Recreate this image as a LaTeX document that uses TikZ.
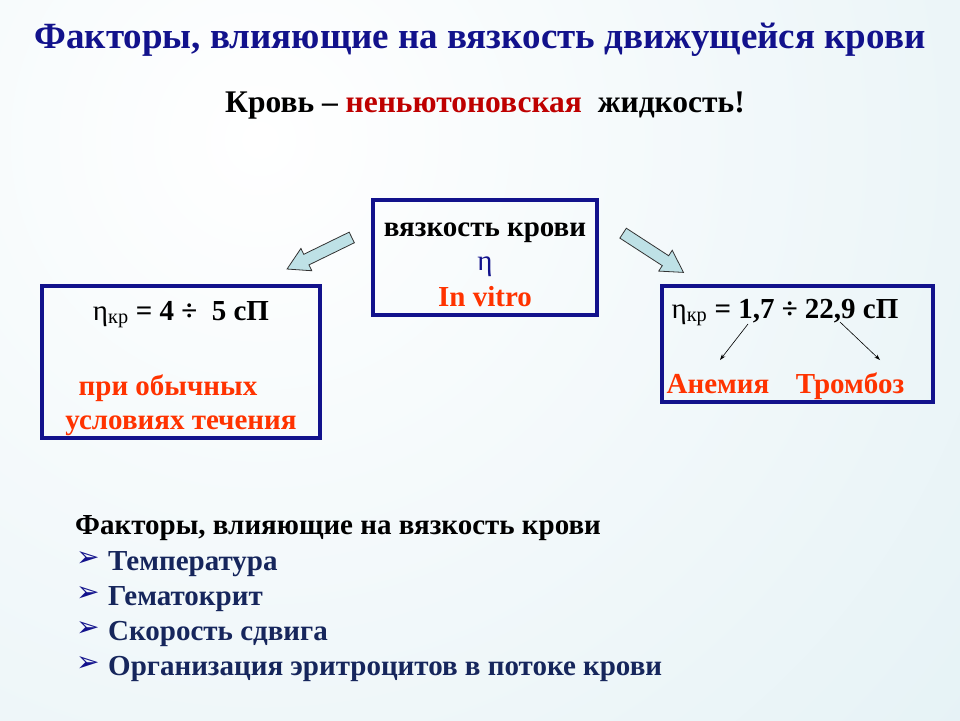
\documentclass[tikz,border=0pt]{standalone}
\usepackage{fontspec}
\setmainfont{Liberation Serif}
\newfontfamily\symfont{DejaVu Sans}
\usetikzlibrary{positioning,shapes.arrows,arrows.meta}

\definecolor{navy}{RGB}{18,18,140}
\definecolor{listblue}{RGB}{22,38,92}
\definecolor{darkred}{RGB}{190,0,0}
\definecolor{orangered}{RGB}{255,51,0}
\definecolor{bgblue}{RGB}{214,234,240}
\definecolor{arrowfill}{RGB}{190,225,230}

\tikzset{
  txt/.style={inner sep=0pt,anchor=base,font=\bfseries},
  big/.style={font=\bfseries\fontsize{29}{32}\selectfont},
  box/.style={draw=navy,line width=4pt,inner sep=0pt},
  blockarrow/.style={single arrow,draw=black!80,fill=arrowfill,line width=0.8pt,
    minimum height=72pt,single arrow head extend=6.5pt,inner sep=5.5pt,
    single arrow tip angle=60},
  thinarrow/.style={-{Stealth[length=6pt,width=4pt]},line width=0.6pt}
}

\begin{document}
\begin{tikzpicture}[x=1pt,y=-1pt]

  % background
  \useasboundingbox (0,0) rectangle (960,720);
  \begin{scope}
    \clip (0,0) rectangle (960,720);
    \shade[inner color=white,outer color=bgblue] (260,140) circle (1500);
  \end{scope}

  % title and subtitle
  \node[txt,text=navy,font=\bfseries\fontsize{37}{40}\selectfont] (title) at (480,48)
    {Факторы, влияющие на вязкость движущейся крови};
  \node[txt,font=\bfseries\fontsize{31.5}{34}\selectfont] (sub) at (485,112)
    {Кровь -- \textcolor{darkred}{неньютоновская}\ \ жидкость!};

  % boxes
  \node[box,minimum width=224pt,minimum height=115pt] (mid) at (485,257.5) {};
  \node[box,minimum width=278pt,minimum height=152pt] (left) at (181,362) {};
  \node[box,minimum width=271pt,minimum height=116pt] (right) at (797.5,344) {};

  % text in the middle box
  \node[txt,big] (visc) at (485,236) {вязкость крови};
  \node[txt,text=navy,font=\fontsize{29}{32}\selectfont] (eta) at (485,270) {η};
  \node[txt,big,text=orangered] (vitro) at (485,306) {In vitro};

  % text in the left box
  \node[txt,big] (lform) at (181,320)
    {\mdseries η\textsubscript{кр} \bfseries= 4 ÷\ \ 5 сП};
  \node[txt,big,text=orangered] (lcond1) at (168,395) {при обычных};
  \node[txt,big,text=orangered] (lcond2) at (181,429) {условиях течения};

  % text in the right box
  \node[txt,big] (rform) at (785,318)
    {\mdseries η\textsubscript{кр} \bfseries= 1,7 ÷ 22,9 сП};
  \node[txt,big,text=orangered] (anem) at (718,393) {Анемия};
  \node[txt,big,text=orangered] (thromb) at (850,393) {Тромбоз};

  \coordinate (a1) at (748,324);
  \coordinate (a2) at (720,360);
  \coordinate (b1) at (840,322);
  \coordinate (b2) at (880,360);
  \draw[thinarrow] (a1) -- (a2);
  \draw[thinarrow] (b1) -- (b2);

  % block arrows from the middle box
  \node[blockarrow,rotate=206] (toleft) at (324,251) {};
  \node[blockarrow,rotate=-33] (toright) at (649,250) {};

  % list of factors
  \node[txt,anchor=base west,big] (fhead) at (75,534)
    {Факторы, влияющие на вязкость крови};
  \foreach [count=\n] \t/\y in {Температура/570,Гематокрит/605,Скорость сдвига/640,
      Организация эритроцитов в потоке крови/675} {
    \node[txt,anchor=base west,text=navy,font=\symfont\fontsize{28}{30}\selectfont] (b\n) at (76,\y-4) {➢};
    \node[txt,anchor=base west,big,text=listblue] (f\n) at (108,\y) {\t};
  };

\end{tikzpicture}
\end{document}
